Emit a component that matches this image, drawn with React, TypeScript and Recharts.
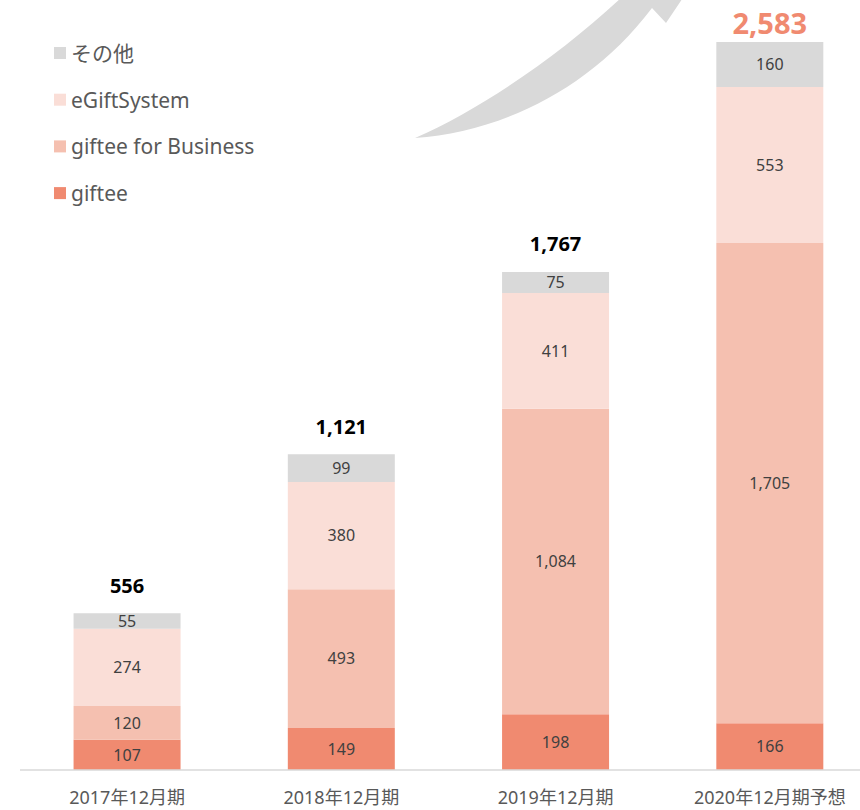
import React from 'react';
import { BarChart, Bar, XAxis, YAxis, LabelList } from 'recharts';

const categories = ['2017年12月期', '2018年12月期', '2019年12月期', '2020年12月期予想'];
const gifteeValues = [107, 149, 198, 166];
const businessValues = [120, 493, 1084, 1705];
const eGiftValues = [274, 380, 411, 553];
const otherValues = [55, 99, 75, 160];
const totals = [556, 1121, 1767, 2583];

const seriesNames = ['その他', 'eGiftSystem', 'giftee for Business', 'giftee'];
const seriesColors = ['#D9D9D9', '#FADED7', '#F5C0B0', '#F08A70'];

const data = categories.map((name, i) => ({
  name,
  giftee: gifteeValues[i],
  business: businessValues[i],
  egift: eGiftValues[i],
  other: otherValues[i],
}));

const FONT = '"Noto Sans", "Noto Sans CJK JP", sans-serif';
const fmt = (v: any) => Number(v).toLocaleString('en-US');

const renderTick = (props: any) => {
  const { x, y, payload } = props;
  return (
    <text x={x} y={Number(y) + 19} textAnchor="middle" dominantBaseline="central" fill="#595959" fontSize={18} fontFamily={FONT}>
      {payload.value}
    </text>
  );
};

const renderTotal = (props: any) => {
  const { x, y, width, index } = props;
  const last = index === totals.length - 1;
  return (
    <text
      key={'t' + index}
      x={Number(x) + Number(width) / 2}
      y={last ? Number(y) - 20 : Number(y) - 28}
      textAnchor="middle"
      dominantBaseline="central"
      fontWeight="bold"
      fontSize={last ? 29 : 20}
      fill={last ? '#F08A70' : '#000000'}
      fontFamily={FONT}
    >
      {fmt(totals[index])}
    </text>
  );
};

const labelStyle = { fill: '#404040', fontSize: 16, fontFamily: FONT };

export default function App() {
  return (
    <div style={{ position: 'absolute', left: 0, top: 0, width: 860, height: 810, overflow: 'hidden', background: '#fff' }}>
      <BarChart
        width={880}
        height={810}
        data={data}
        margin={{ top: 42, right: 3, left: 20, bottom: 10 }}
        barCategoryGap="25%"
      >
        <path
          d="M415,138 C500,132 590,90 652,8 L666,23 L705,-35 L615,-12 L622,-3 C560,55 480,110 415,138 Z"
          fill="#D9D9D9"
        />
        {seriesNames.map((n, i) => (
          <g key={n}>
            <rect x={54} y={47 + i * 46.7} width={12} height={12} fill={seriesColors[i]} />
            <text x={71} y={53 + i * 46.7} dominantBaseline="central" fontSize={21} fill="#595959" fontFamily={FONT}>
              {n}
            </text>
          </g>
        ))}
        <XAxis
          dataKey="name"
          height={30}
          tickLine={false}
          axisLine={{ stroke: '#D9D9D9', strokeWidth: 1.5 }}
          tick={renderTick}
          interval={0}
        />
        <YAxis hide domain={[0, 2584]} />
        <Bar dataKey="giftee" stackId="a" fill={seriesColors[3]} isAnimationActive={false}>
          <LabelList dataKey="giftee" position="center" formatter={fmt} style={labelStyle} />
        </Bar>
        <Bar dataKey="business" stackId="a" fill={seriesColors[2]} isAnimationActive={false}>
          <LabelList dataKey="business" position="center" formatter={fmt} style={labelStyle} />
        </Bar>
        <Bar dataKey="egift" stackId="a" fill={seriesColors[1]} isAnimationActive={false}>
          <LabelList dataKey="egift" position="center" formatter={fmt} style={labelStyle} />
        </Bar>
        <Bar dataKey="other" stackId="a" fill={seriesColors[0]} isAnimationActive={false}>
          <LabelList dataKey="other" position="center" formatter={fmt} style={labelStyle} />
          <LabelList dataKey="other" content={renderTotal} />
        </Bar>
      </BarChart>
    </div>
  );
}
